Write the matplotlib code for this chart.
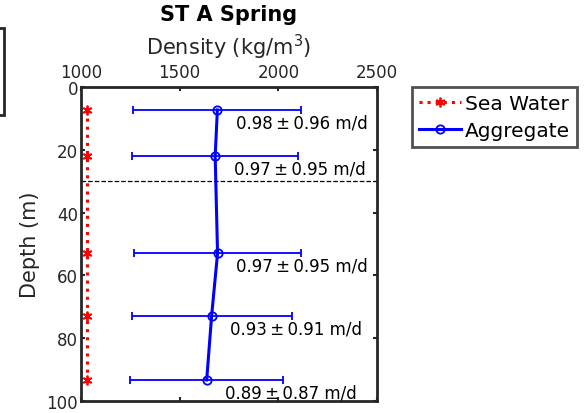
import matplotlib.pyplot as plt
from matplotlib.lines import Line2D
from matplotlib.patches import Rectangle

# --- Data ---
depth = [7.3, 22.0, 53.0, 72.8, 93.3]
sea_water = [1030, 1030, 1030, 1030, 1030]
aggregate = [1691, 1680, 1692, 1662, 1637]
agg_err = [425, 420, 422, 405, 387]
labels = ["0.98\u2009\u00b1\u20090.96 m/d", "0.97\u2009\u00b1\u20090.95 m/d",
          "0.97\u2009\u00b1\u20090.95 m/d", "0.93\u2009\u00b1\u20090.91 m/d",
          "0.89\u2009\u00b1\u20090.87 m/d"]
mld = 30

plt.rcParams["font.family"] = ["DejaVu Sans"]
edge = "#262626"
asterisk = (6, 2, 0)

fig = plt.figure(figsize=(5.84, 4.14), dpi=100)
ax = fig.add_axes([81 / 584, 1 - 402 / 414, 296 / 584, 314 / 414])

# --- Sea water profile ---
ax.plot(sea_water, depth, color="red", linestyle=":", linewidth=2.2,
        marker=asterisk, markersize=7, markeredgewidth=1.3)

# --- Aggregate profile with error bars ---
ax.errorbar(aggregate, depth, xerr=agg_err, color="blue", linewidth=2.2,
            elinewidth=1.3, capsize=3, capthick=1.3, marker="o", markersize=6,
            markerfacecolor="none", markeredgewidth=1.3)

for x, y, s in zip(aggregate, depth, labels):
    ax.text(x + 95, y + 4, s, fontsize=12, ha="left", va="center")

# mixed layer depth
ax.axhline(mld, color="black", linestyle="--", linewidth=0.9)

# --- Axes styling (MATLAB-like) ---
ax.set_xlim(1000, 2500)
ax.set_ylim(100, 0)
ax.set_xticks([1000, 1500, 2000, 2500])
ax.set_yticks([0, 20, 40, 60, 80, 100])
ax.xaxis.tick_top()
ax.xaxis.set_label_position("top")
ax.tick_params(axis="both", direction="in", length=3, width=1.5, color=edge,
               labelsize=12, labelcolor=edge, pad=2,
               top=True, bottom=True, left=True, right=True)
ax.tick_params(axis="x", pad=4)
for sp in ax.spines.values():
    sp.set_linewidth(2)
    sp.set_color(edge)

ax.set_xlabel("Density (kg/m$^3$)", fontsize=15, labelpad=7, color=edge)
ax.set_ylabel("Depth (m)", fontsize=15, labelpad=5, color=edge)
ax.set_title("ST A Spring", fontsize=15, fontweight="bold", pad=8)

# --- Legend outside right ---
handles = [
    Line2D([0], [0], color="red", linestyle=":", linewidth=2.2,
           marker=asterisk, markersize=7, markeredgewidth=1.3),
    Line2D([0], [0], color="blue", linewidth=2.2, marker="o", markersize=6,
           markerfacecolor="none", markeredgewidth=1.3),
]
leg = ax.legend(handles, ["Sea Water", "Aggregate"], loc="upper left",
                bbox_to_anchor=(1.118, 1.0), fontsize=14.5, frameon=True,
                fancybox=False, handlelength=2.1, handletextpad=0.2,
                borderpad=0.35, labelspacing=0.4, borderaxespad=0)
leg.get_frame().set_edgecolor(edge)
leg.get_frame().set_linewidth(2)

# partial box of neighbouring panel at the left edge
fig.patches.append(Rectangle((-10 / 584, 1 - 116 / 414), 14 / 584, 87 / 414,
                             transform=fig.transFigure, fill=False,
                             edgecolor=edge, linewidth=2))

fig.savefig("out.png", dpi=100)
